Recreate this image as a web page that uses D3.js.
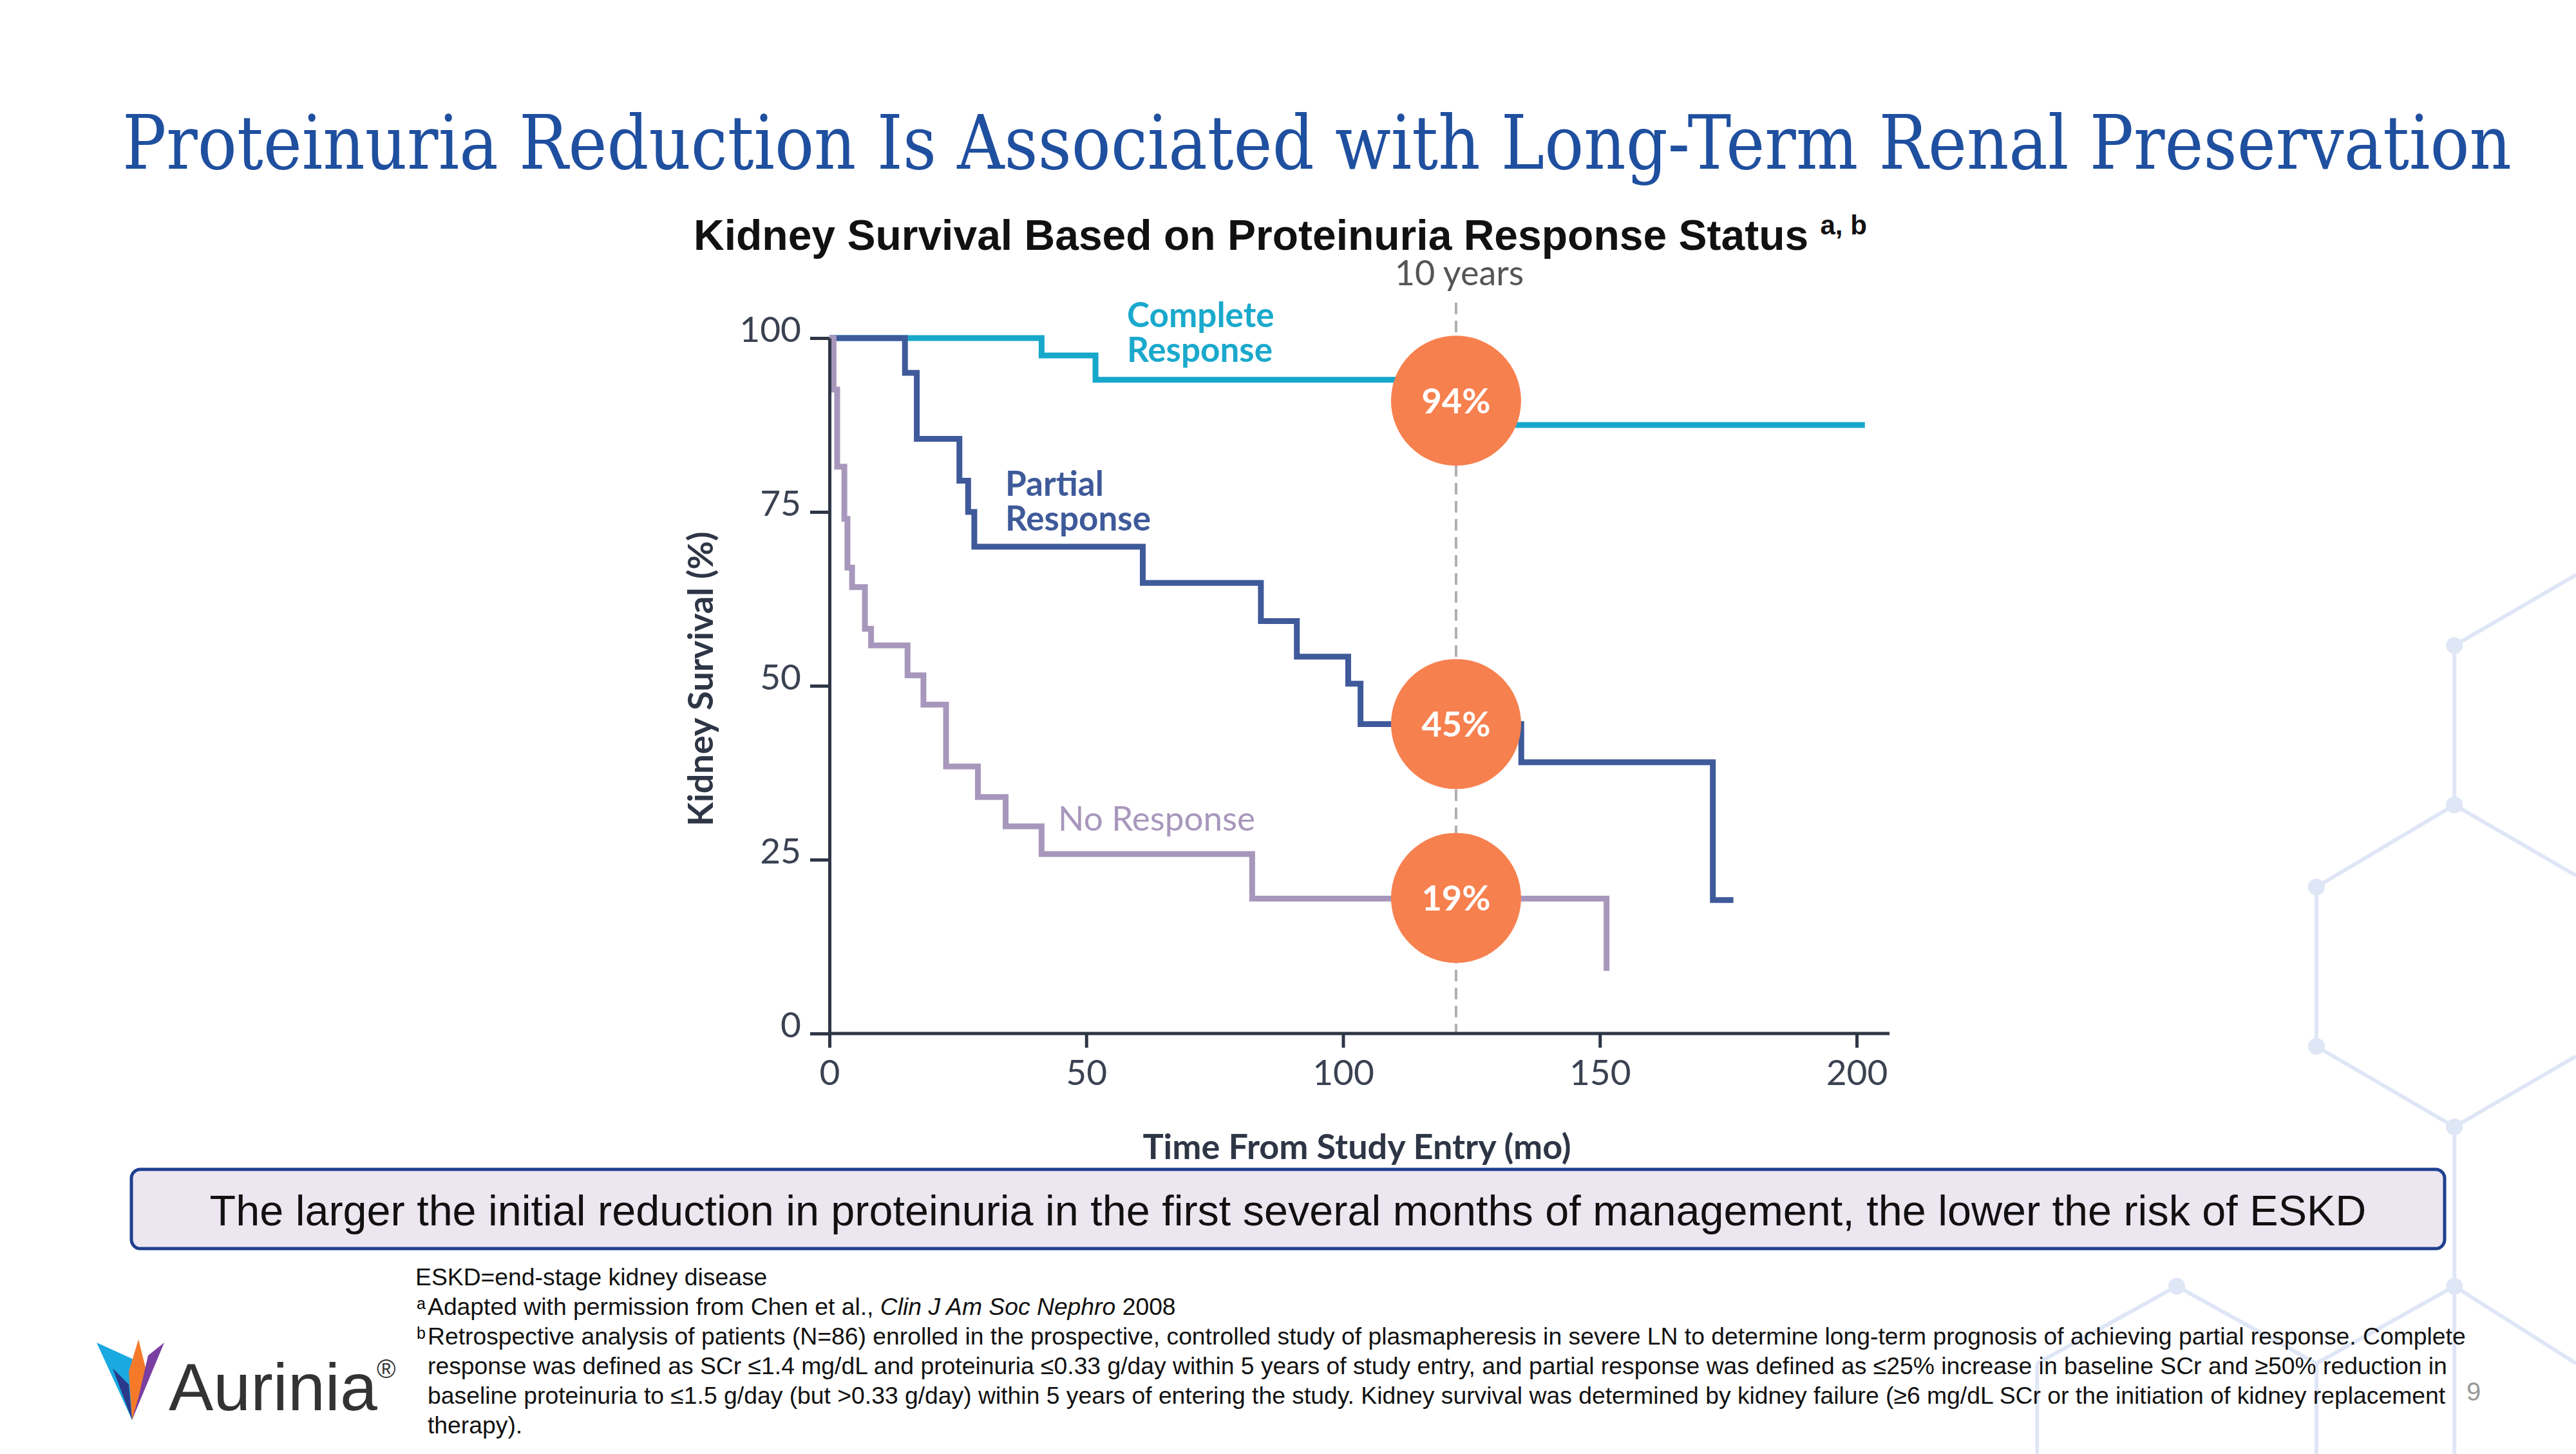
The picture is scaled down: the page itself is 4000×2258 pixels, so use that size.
<!DOCTYPE html>
<html><head><meta charset="utf-8">
<script src="https://cdn.jsdelivr.net/npm/d3@7"></script>
<style>body{margin:0;background:#fff}svg{display:block}</style>
</head><body>
<script>
const xTicks=[0,50,100,150,200];
const yTicks=[0,25,50,75,100];
const complete=[[0,100],[41.3,100],[41.3,97.5],[51.8,97.5],[51.8,94],[130,94],[130,87.5],[201.6,87.5]];
const partial=[[0,100],[14.7,100],[14.7,95],[17,95],[17,85.5],[25.3,85.5],[25.3,79.5],[27,79.5],[27,75],[28.2,75],[28.2,70],[61,70],[61,64.8],[84,64.8],[84,59.3],[91,59.3],[91,54.2],[101,54.2],[101,50.3],[103.4,50.3],[103.4,44.5],[134.7,44.5],[134.7,39],[172,39],[172,19.2],[176,19.2]];
const noResp=[[0,100],[0.8,100],[0.8,92.6],[1.5,92.6],[1.5,81.5],[2.9,81.5],[2.9,74],[3.5,74],[3.5,67],[4.4,67],[4.4,64.2],[6.9,64.2],[6.9,58.2],[8.1,58.2],[8.1,55.8],[15.2,55.8],[15.2,51.5],[18.3,51.5],[18.3,47.3],[22.7,47.3],[22.7,38.4],[28.9,38.4],[28.9,34],[34.3,34],[34.3,29.8],[41.3,29.8],[41.3,25.8],[82.3,25.8],[82.3,19.4],[151.3,19.4],[151.3,9]];
const badges=[{v:91,t:"94%"},{v:44.5,t:"45%"},{v:19.5,t:"19%"}];
const tenYears=122;
const footnotes=[
 ["","ESKD=end-stage kidney disease"],
 ["a","Adapted with permission from Chen et al., <i>Clin J Am Soc Nephro</i> 2008"],
 ["b","Retrospective analysis of patients (N=86) enrolled in the prospective, controlled study of plasmapheresis in severe LN to determine long-term prognosis of achieving partial response. Complete"],
 ["","response was defined as SCr ≤1.4 mg/dL and proteinuria ≤0.33 g/day within 5 years of study entry, and partial response was defined as ≤25% increase in baseline SCr and ≥50% reduction in"],
 ["","baseline proteinuria to ≤1.5 g/day (but >0.33 g/day) within 5 years of entering the study. Kidney survival was determined by kidney failure (≥6 mg/dL SCr or the initiation of kidney replacement"],
 ["","therapy)."]];

const W=4000,H=2258;
const svg=d3.select("body").append("svg").attr("width",W).attr("height",H);
const S=2.551;
const hexC="#dfe6f6";
const segs=[[1494,393,1568,350],[1494,393,1494,490],[1494,490,1568,533],[1494,490,1410,540],[1410,540,1410,637],[1410,637,1494,686],[1494,686,1568,643],[1494,686,1494,783],[1494,783,1410,830],[1494,783,1568,830],[1325,783,1240,830],[1325,783,1410,830],[1240,830,1240,885],[1410,830,1410,885],[1494,783,1494,885]];
svg.append("g").selectAll("line").data(segs).join("line").attr("x1",d=>d[0]*S).attr("y1",d=>d[1]*S).attr("x2",d=>d[2]*S).attr("y2",d=>d[3]*S).attr("stroke",hexC).attr("stroke-width",6);
svg.append("g").selectAll("circle").data([[1494,393],[1494,490],[1410,540],[1410,637],[1494,686],[1494,783],[1325,783]]).join("circle").attr("cx",d=>d[0]*S).attr("cy",d=>d[1]*S).attr("r",13).attr("fill",hexC);

svg.append("text").attr("x",2045).attr("y",262).attr("text-anchor","middle").attr("font-family","DejaVu Serif").attr("font-size",116).attr("fill","#1f4f9f").attr("textLength",3710).attr("lengthAdjust","spacingAndGlyphs").text("Proteinuria Reduction Is Associated with Long-Term Renal Preservation");
const st=svg.append("text").attr("x",1077).attr("y",388).attr("font-family","Liberation Sans, Arial").attr("font-weight","bold").attr("font-size",66).attr("fill","#111");
st.append("tspan").text("Kidney Survival Based on Proteinuria Response Status ");
st.append("tspan").attr("font-size",42).attr("dy",-24).text("a, b");

const x=d3.scaleLinear().domain([0,200]).range([1288,2883]);
const y=d3.scaleLinear().domain([0,100]).range([1605,525]);
const F="Lato, Noto Sans, sans-serif";
const axC="#2e3646";
svg.append("line").attr("x1",x(tenYears)).attr("x2",x(tenYears)).attr("y1",470).attr("y2",y(0)).attr("stroke","#b0b0b0").attr("stroke-width",4).attr("stroke-dasharray","18,10");
svg.append("text").attr("x",x(tenYears)+5).attr("y",443).attr("text-anchor","middle").attr("font-family",F).attr("font-size",54).attr("fill","#555").text("10 years");

const line=d3.line().x(d=>x(d[0])).y(d=>y(d[1]));
[[complete,"#16a8cb"],[partial,"#3f5a9a"],[noResp,"#a897bc"]].forEach(([d,c])=>{
 svg.append("path").attr("d",line(d)).attr("fill","none").attr("stroke",c).attr("stroke-width",9);
});
const ga=svg.append("g").attr("transform",`translate(0,${y(0)})`).call(d3.axisBottom(x).tickValues(xTicks).tickSize(22).tickSizeOuter(0));
ga.select(".domain").attr("d",`M${x(0)},0H2934`);
const gy=svg.append("g").attr("transform",`translate(${x(0)},0)`).call(d3.axisLeft(y).tickValues(yTicks).tickSize(30).tickSizeOuter(0));
[ga,gy].forEach(g=>{g.selectAll("path,line").attr("stroke",axC).attr("stroke-width",5);g.selectAll("text").attr("font-family",F).attr("font-size",55).attr("fill","#3a4252");});
ga.selectAll("text").attr("dy","1.0em");
gy.selectAll("text").attr("dx","-0.2em").attr("dy","0.1em");
svg.append("text").attr("transform",`translate(1107,${y(51)}) rotate(-90)`).attr("text-anchor","middle").attr("font-family",F).attr("font-weight","bold").attr("font-size",54).attr("fill","#2e3646").text("Kidney Survival (%)");
svg.append("text").attr("x",x(102.7)).attr("y",1800).attr("text-anchor","middle").attr("font-family",F).attr("font-weight","bold").attr("font-size",54).attr("fill","#2e3646").text("Time From Study Entry (mo)");

const lab=(t,xx,yy,c)=>svg.append("text").attr("x",xx).attr("y",yy).attr("font-family",F).attr("font-weight","bold").attr("font-size",53).attr("fill",c).text(t);
lab("Complete",1750,508,"#1aa9cc");lab("Response",1750,562,"#1aa9cc");
lab("Partial",1561,770,"#3f5a9a");lab("Response",1561,824,"#3f5a9a");
svg.append("text").attr("x",1643).attr("y",1290).attr("font-family",F).attr("font-size",53).attr("fill","#a897bc").text("No Response");

const bg=svg.append("g").selectAll("g").data(badges).join("g").attr("transform",d=>`translate(${x(tenYears)},${y(d.v)})`);
bg.append("circle").attr("r",101).attr("fill","#f7804f");
bg.append("text").attr("text-anchor","middle").attr("dy","0.36em").attr("font-family",F).attr("font-weight","bold").attr("font-size",54).attr("fill","#fff").text(d=>d.t);

svg.append("rect").attr("x",204).attr("y",1816).attr("width",3592).attr("height",123).attr("rx",14).attr("fill","#ece6f1").attr("stroke","#1f3f8f").attr("stroke-width",5);
svg.append("text").attr("x",2000).attr("y",1903).attr("text-anchor","middle").attr("font-family","Liberation Sans, Arial").attr("font-size",66.5).attr("fill","#111").text("The larger the initial reduction in proteinuria in the first several months of management, the lower the risk of ESKD");

footnotes.forEach((f,i)=>{
 const yy=1999+i*46;
 if(f[0]) svg.append("text").attr("x",647).attr("y",yy-12).attr("font-family","Liberation Sans, Arial").attr("font-size",25).text(f[0]);
 svg.append("foreignObject").attr("x",i==0?645:664).attr("y",yy-37).attr("width",3300).attr("height",50)
  .append("xhtml:div").style("font-family","Liberation Sans, Arial").style("font-size","37.3px").style("white-space","nowrap").style("color","#111").html(f[1]);
});
svg.append("text").attr("x",3830).attr("y",2175).attr("font-family","Liberation Sans, Arial").attr("font-size",40).attr("fill","#999").text("9");

const lg=svg.append("g");
lg.append("polygon").attr("points","150,2085 205,2205 230,2140 205,2110").attr("fill","#1aa9e0");
lg.append("polygon").attr("points","205,2205 230,2140 215,2080 200,2130").attr("fill","#f47a2a");
lg.append("polygon").attr("points","205,2205 255,2085 230,2105 215,2170").attr("fill","#7a3fa0");
lg.append("polygon").attr("points","205,2205 175,2125 200,2150").attr("fill","#2a3a8a");
svg.append("text").attr("x",262).attr("y",2190).attr("font-family","Liberation Sans, Arial").attr("font-size",104).attr("fill","#333").text("Aurinia");
svg.append("text").attr("x",585).attr("y",2140).attr("font-family","Liberation Sans, Arial").attr("font-size",40).attr("fill","#333").text("®");
</script>
</body></html>
